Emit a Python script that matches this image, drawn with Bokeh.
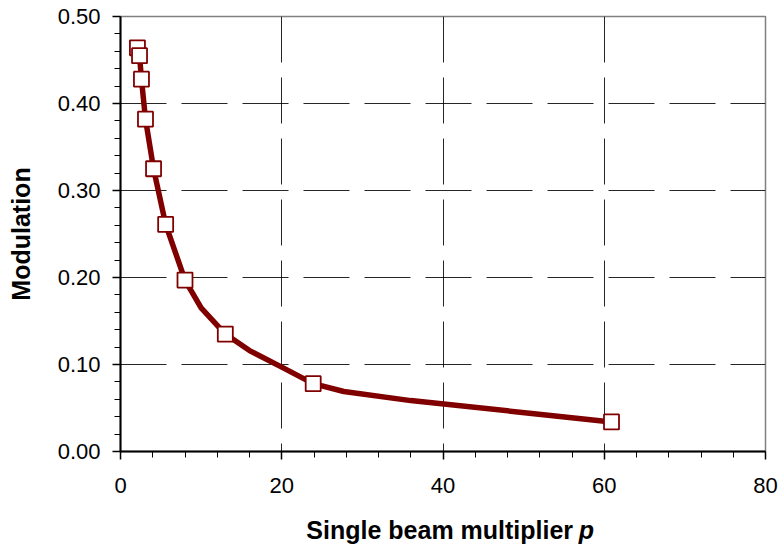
from bokeh.plotting import figure
from bokeh.models import SingleIntervalTicker, NumeralTickFormatter, ColumnDataSource, Label
from bokeh.layouts import column
from bokeh.embed import file_html
from bokeh.resources import INLINE

# Smoothed curve
line_x = [2.1, 2.36, 2.6, 3.1, 4.1, 5.6, 8.0, 10.0, 13.0, 16.0, 20.0, 23.9, 27.7, 36.0, 51.3, 60.9]
line_y = [0.464, 0.455, 0.428, 0.382, 0.325, 0.261, 0.197, 0.165, 0.135, 0.116, 0.097, 0.078, 0.069, 0.0585, 0.0435, 0.034]

# Marked data points
pts_x = [2.1, 2.36, 2.6, 3.1, 4.1, 5.6, 8.0, 13.0, 23.9, 60.9]
pts_y = [0.464, 0.455, 0.428, 0.382, 0.325, 0.261, 0.197, 0.135, 0.078, 0.034]

x_label_main = "Single beam multiplier"
x_label_var = "p"
y_label = "Modulation"

FONT = "Liberation Sans"
RED = "#800000"

p = figure(width=781, height=510, x_range=(0, 80), y_range=(0, 0.5),
           output_backend="svg", toolbar_location=None,
           min_border_left=120, min_border_right=16, min_border_top=16, min_border_bottom=59)
p.background_fill_color = "white"
p.border_fill_color = "white"
p.outline_line_color = "#808080"
p.outline_line_width = 1.5

# axes
p.xaxis.ticker = SingleIntervalTicker(interval=20, num_minor_ticks=5)
p.yaxis.ticker = SingleIntervalTicker(interval=0.1, num_minor_ticks=5)
p.yaxis.formatter = NumeralTickFormatter(format="0.00")
for ax in (p.xaxis[0], p.yaxis[0]):
    ax.axis_line_color = "black"
    ax.axis_line_width = 2
    ax.major_tick_line_color = "black"
    ax.minor_tick_line_color = "black"
    ax.major_tick_line_width = 1.5
    ax.minor_tick_line_width = 1
    ax.major_tick_out = 8
    ax.major_tick_in = 0
    ax.minor_tick_out = 6
    ax.minor_tick_in = 0
    ax.major_label_text_font = FONT
    ax.major_label_text_font_size = "22px"
    ax.major_label_text_color = "black"
    ax.axis_label_text_font = FONT
    ax.axis_label_text_font_size = "25px"
    ax.axis_label_text_font_style = "bold"
    ax.axis_label_text_color = "black"

p.xaxis.major_label_standoff = 18
p.yaxis.major_label_standoff = 12
p.yaxis.axis_label = y_label
p.yaxis.axis_label_standoff = 20

# grid
for g in (p.xgrid[0], p.ygrid[0]):
    g.grid_line_color = "black"
    g.grid_line_width = 1
    g.grid_line_dash = "46 15"
    g.grid_line_alpha = 0.85
p.xgrid[0].grid_line_dash_offset = 38

src_line = ColumnDataSource(dict(x=line_x, y=line_y))
src_pts = ColumnDataSource(dict(x=pts_x, y=pts_y))

p.line("x", "y", source=src_line, line_color=RED, line_width=5.5, line_join="round", line_cap="round")
p.scatter("x", "y", source=src_pts, marker="square", size=15, fill_color="white",
          line_color=RED, line_width=1.8)

# x-axis title strip: bold text followed by a bold-italic variable
t = figure(width=781, height=40, x_range=(0, 781), y_range=(0, 40),
           output_backend="svg", toolbar_location=None,
           min_border=0, min_border_left=0, min_border_right=0,
           min_border_top=0, min_border_bottom=0)
t.axis.visible = False
t.grid.visible = False
t.outline_line_color = None
t.background_fill_color = "white"
t.border_fill_color = "white"
t.add_layout(Label(x=548, y=21, text=x_label_main, text_align="right",
                   text_baseline="alphabetic", text_font=FONT, text_font_size="25px",
                   text_font_style="bold", text_color="black"))
t.add_layout(Label(x=555, y=21, text=x_label_var, text_align="left",
                   text_baseline="alphabetic", text_font=FONT, text_font_size="25px",
                   text_font_style="bold italic", text_color="black"))

layout = column(p, t, spacing=0)
open("out.html", "w").write(file_html(layout, INLINE))
